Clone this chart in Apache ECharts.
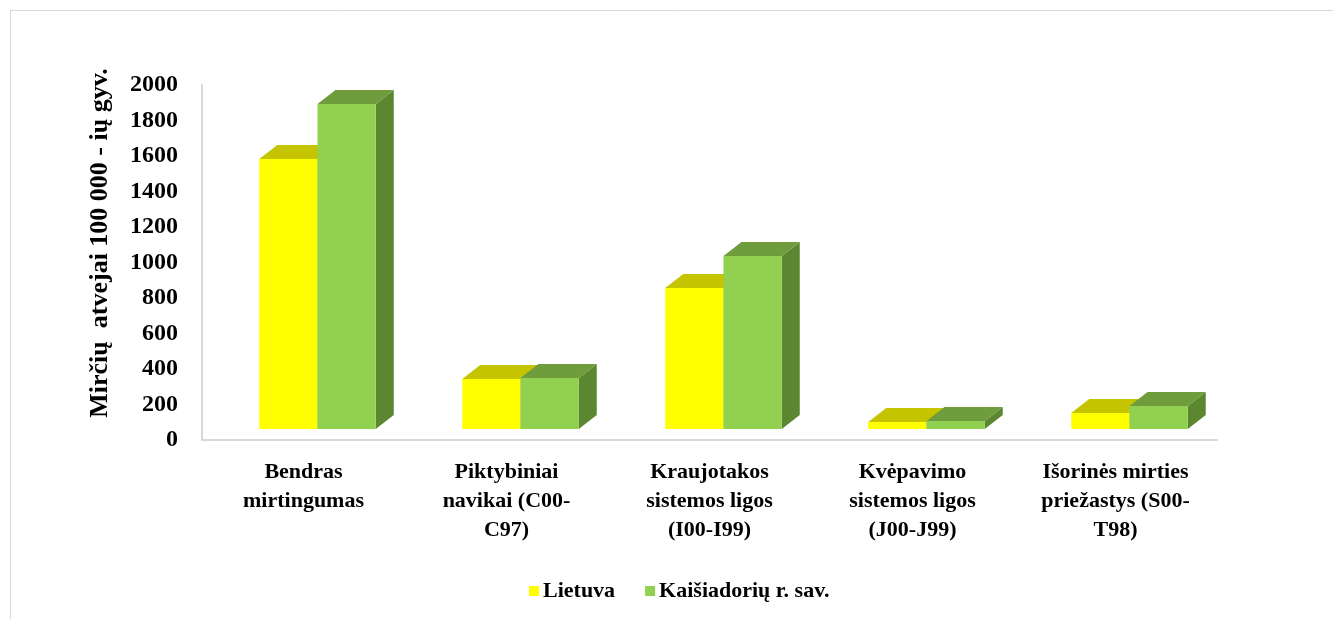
<!DOCTYPE html>
<html>
<head>
<meta charset="utf-8">
<script src="https://cdn.jsdelivr.net/npm/echarts@6/dist/echarts.min.js"></script>
<style>
  html, body { margin: 0; padding: 0; background: #fff; }
  #chart { width: 1333px; height: 619px; }
</style>
</head>
<body>
<div id="chart"></div>
<script>
// kategorijos ir reikšmės
const categories = [
  'Bendras\nmirtingumas',
  'Piktybiniai\nnavikai (C00-\nC97)',
  'Kraujotakos\nsistemos ligos\n(I00-I99)',
  'Kvėpavimo\nsistemos ligos\n(J00-J99)',
  'Išorinės mirties\npriežastys (S00-\nT98)',
];
const seriesNames = ['Lietuva', 'Kaišiadorių r. sav.'];
const lietuva = [1521, 282, 794, 39, 90];
const kaisiadorys = [1831, 287, 975, 45, 130];

// spalvos: priekis, viršus, šonas
const colors = [
  { front: '#ffff00', top: '#c4c400', side: '#a6a600' },
  { front: '#92d050', top: '#6f9d3e', side: '#5b8731' },
];

const chart = echarts.init(document.getElementById('chart'));

function makeRender(idx) {
  return function (params, api) {
    const cat = api.value(0);
    const v = api.value(1);
    const base = api.coord([cat, 0]);
    const top = api.coord([cat, v]);
    const band = api.size([1, 0])[0];
    const barW = band * 0.287;
    const shift = 14; // 3D poslinkis į dešinę
    const lift = 11; // priekinė siena virš grindų
    const dx = 18, dy = 14;
    const x0 = base[0] + shift - barW + idx * barW;
    const yb = base[1] - lift;
    const yt = top[1] - lift;
    const c = colors[idx];
    return {
      type: 'group',
      children: [
        {
          type: 'polygon',
          shape: { points: [[x0 + barW, yt], [x0 + barW + dx, yt - dy], [x0 + barW + dx, yb - dy], [x0 + barW, yb]] },
          style: { fill: c.side },
        },
        {
          type: 'polygon',
          shape: { points: [[x0, yt], [x0 + barW, yt], [x0 + barW + dx, yt - dy], [x0 + dx, yt - dy]] },
          style: { fill: c.top },
        },
        {
          type: 'rect',
          shape: { x: x0, y: yt, width: barW, height: yb - yt },
          style: { fill: c.front },
        },
      ],
    };
  };
}

const font = 'Liberation Serif';

const option = {
  animation: false,
  backgroundColor: '#fff',
  grid: {
    left: 202,
    right: 116,
    top: 85,
    bottom: 179,
  },
  graphic: [
    {
      type: 'rect',
      shape: { x: 10.5, y: 10.5, width: 1340, height: 640 },
      style: { fill: 'none', stroke: '#d9d9d9', lineWidth: 1 },
      silent: true,
    },
    {
      type: 'text',
      x: 100,
      y: 243,
      rotation: Math.PI / 2,
      style: {
        text: 'Mirčių  atvejai 100 000 - ių gyv.',
        font: 'bold 26px "Liberation Serif"',
        fill: '#000',
        align: 'center',
        verticalAlign: 'middle',
      },
    },
  ],
  legend: {
    data: seriesNames.map((n, i) => ({ name: n, icon: 'rect', itemStyle: { color: colors[i].front } })),
    left: 524,
    top: 575,
    itemWidth: 10,
    itemHeight: 10,
    itemGap: 30,
    textStyle: {
      fontFamily: font,
      fontWeight: 'bold',
      fontSize: 22,
      color: '#000',
      padding: [0, 0, 0, -1],
    },
  },
  xAxis: {
    type: 'category',
    data: categories,
    axisLine: { lineStyle: { color: '#d9d9d9', width: 2 } },
    axisTick: { show: false },
    axisLabel: {
      interval: 0,
      margin: 18,
      fontFamily: font,
      fontWeight: 'bold',
      fontSize: 22,
      lineHeight: 29,
      color: '#000',
    },
  },
  yAxis: {
    type: 'value',
    min: 0,
    max: 2000,
    interval: 200,
    axisLine: { show: true, lineStyle: { color: '#d9d9d9', width: 2 } },
    axisTick: { show: false },
    splitLine: { show: false },
    axisLabel: {
      margin: 24,
      fontFamily: font,
      fontWeight: 'bold',
      fontSize: 24,
      color: '#000',
      formatter: v => String(v),
    },
  },
  series: [lietuva, kaisiadorys].map((arr, i) => ({
    name: seriesNames[i],
    type: 'custom',
    clip: false,
    itemStyle: { color: colors[i].front },
    renderItem: makeRender(i),
    encode: { x: 0, y: 1 },
    data: arr.map((v, j) => [j, v]),
  })),
};

chart.setOption(option);
</script>
</body>
</html>
